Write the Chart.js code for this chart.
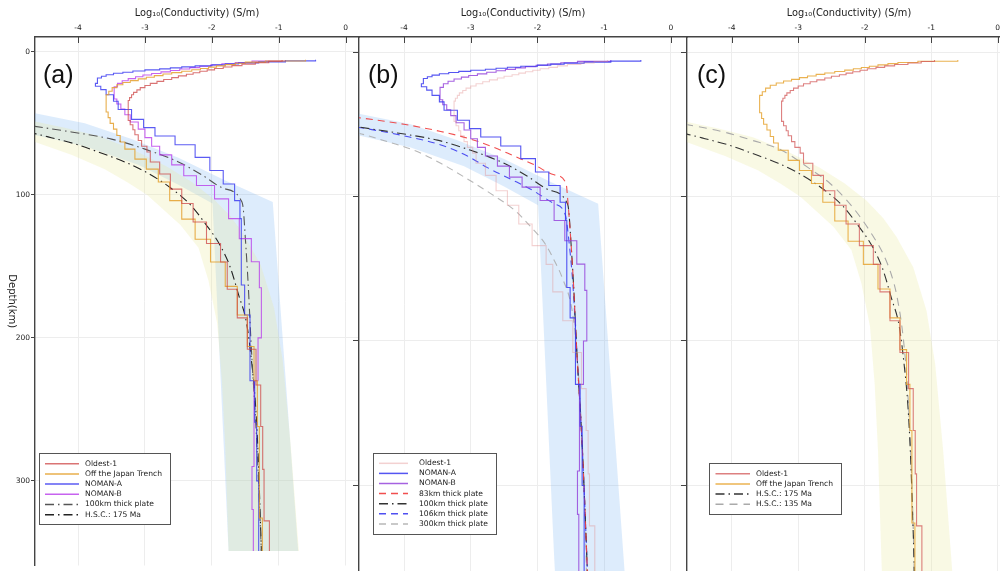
<!DOCTYPE html>
<html>
<head>
<meta charset="utf-8">
<script src="https://cdn.jsdelivr.net/npm/chart.js@4.4.0/dist/chart.umd.min.js"></script>
<style>
  html, body { margin: 0; padding: 0; background: #fff; overflow: hidden; }
  #wrap { position: relative; width: 1000px; height: 571px; }
  canvas { position: absolute; top: 0; }
</style>
</head>
<body>
<div id="wrap">
  <canvas id="panelA" width="362" height="571" style="left:0px"></canvas>
  <canvas id="panelB" width="360" height="571" style="left:330px"></canvas>
  <canvas id="panelC" width="354" height="571" style="left:660px"></canvas>
</div>
<script>
// axis ticks
const logTicks = [-4, -3, -2, -1, 0];
const depthTicks = [0, 100, 200, 300];

// resistivity-model profiles: layer top depth (km) and log10 conductivity of each layer
const oldestDepth = [5.6, 6.6, 7.6, 8.6, 9.6, 10.6, 11.6, 12.6, 13.6, 14.6, 15.7, 16.8, 18, 19.3, 20.6, 22, 23.5, 25, 26.6, 28.3, 30, 32, 34, 48, 51, 54.5, 58, 62, 66, 70, 77, 85.4, 96, 106, 119, 134, 147, 166, 186, 208, 233, 262, 292, 328];
const oldestLog = [-0.95, -1.15, -1.35, -1.55, -1.70, -1.83, -1.96, -2.07, -2.18, -2.28, -2.38, -2.50, -2.60, -2.72, -2.82, -2.92, -3.00, -3.07, -3.12, -3.17, -3.20, -3.23, -3.25, -3.22, -3.18, -3.15, -3.10, -3.05, -2.97, -2.92, -2.78, -2.62, -2.45, -2.28, -2.08, -1.87, -1.77, -1.62, -1.47, -1.34, -1.27, -1.24, -1.22, -1.14];

const trenchDepth = [5.5, 6.4, 7.2, 8.0, 8.9, 9.8, 10.7, 11.6, 12.5, 13.5, 14.5, 15.5, 16.6, 17.7, 18.9, 20.1, 21.4, 23, 25, 27.5, 30, 42, 46, 50, 54, 58.5, 63, 68, 75, 82, 91, 104, 117, 131, 147, 164, 184, 206, 230, 262, 326];
const trenchLog = [-0.6, -1.2, -1.5, -1.65, -1.8, -1.93, -2.05, -2.17, -2.3, -2.45, -2.6, -2.73, -2.86, -2.98, -3.1, -3.22, -3.33, -3.42, -3.49, -3.54, -3.58, -3.55, -3.52, -3.47, -3.42, -3.37, -3.30, -3.15, -2.98, -2.80, -2.63, -2.45, -2.25, -2.02, -1.80, -1.62, -1.47, -1.37, -1.32, -1.29, -1.245];

const nomanADepth = [5.5, 6.3, 7.0, 7.7, 8.4, 9.1, 9.8, 10.5, 11.2, 11.9, 12.6, 13.4, 14.2, 15.0, 16.0, 17.1, 18.3, 22, 24, 26.4, 30, 34.5, 40.3, 47.2, 53, 58.8, 65, 73.8, 83, 92.4, 104, 116.6, 163, 184, 230, 259, 300];
const nomanALog = [-0.45, -0.9, -1.3, -1.6, -1.8, -2.0, -2.25, -2.45, -2.62, -2.78, -3.0, -3.18, -3.33, -3.47, -3.58, -3.65, -3.71, -3.74, -3.66, -3.58, -3.47, -3.40, -3.20, -3.02, -2.85, -2.55, -2.25, -2.03, -1.83, -1.66, -1.58, -1.56, -1.51, -1.43, -1.36, -1.33, -1.30];

const nomanBDepth = [5.6, 6.5, 7.4, 8.3, 9.2, 10.1, 11.0, 12.0, 13.0, 14.0, 15.1, 16.2, 17.4, 18.7, 20.2, 22, 24.5, 33, 36.5, 40, 44, 49, 54, 60, 66, 72, 79, 86.6, 93.5, 102.8, 116.6, 130.6, 146.8, 165, 200, 230, 290, 320];
const nomanBLog = [-0.9, -1.4, -1.65, -1.85, -2.02, -2.18, -2.33, -2.48, -2.62, -2.76, -2.9, -3.03, -3.14, -3.25, -3.34, -3.41, -3.46, -3.42, -3.36, -3.30, -3.22, -3.10, -3.0, -2.90, -2.78, -2.60, -2.42, -2.23, -1.96, -1.75, -1.59, -1.41, -1.29, -1.26, -1.31, -1.37, -1.40, -1.38];

// thermal-model conductivity curves
const plate83Depth = [42, 45, 50, 55, 60, 66, 72, 78, 85, 91, 100, 130, 160, 207, 272, 349, 375];
const plate83Log = [-5.3, -4.75, -4.0, -3.45, -3.02, -2.65, -2.35, -2.05, -1.75, -1.57, -1.55, -1.50, -1.46, -1.41, -1.33, -1.26, -1.24];

const plate100Depth = [48, 52, 56, 61, 68, 77, 86, 95, 105, 110, 130, 160, 207, 272, 349, 375];
const plate100Log = [-5.2, -4.66, -4.1, -3.5, -3.0, -2.5, -2.15, -1.85, -1.55, -1.53, -1.50, -1.46, -1.41, -1.33, -1.26, -1.24];

const plate106Depth = [48, 52, 58, 65, 72, 80, 88, 95, 105, 113, 130, 160, 207, 272, 349, 375];
const plate106Log = [-5.3, -4.7, -4.0, -3.4, -3.05, -2.75, -2.4, -2.1, -1.75, -1.58, -1.53, -1.47, -1.41, -1.33, -1.26, -1.24];

const plate300Depth = [52, 56, 62, 68, 77, 87, 98, 110, 122, 133, 145, 156, 179, 207, 242, 290, 349, 375];
const plate300Log = [-5.2, -4.7, -4.25, -3.85, -3.45, -3.08, -2.7, -2.33, -2.08, -1.88, -1.74, -1.63, -1.48, -1.41, -1.36, -1.31, -1.27, -1.26];

const hsc175Depth = [53, 56, 60, 65, 70, 77, 85, 95, 107, 120, 135, 150, 170, 190, 215, 245, 280, 320, 349, 375];
const hsc175Log = [-5.1, -4.75, -4.4, -4.0, -3.7, -3.3, -2.95, -2.62, -2.32, -2.1, -1.88, -1.73, -1.6, -1.48, -1.41, -1.35, -1.31, -1.28, -1.26, -1.25];

const hsc135Depth = [46, 50, 55, 61, 68, 80, 91, 102, 114, 127, 140, 154, 168, 198, 230, 265, 300, 349, 375];
const hsc135Log = [-5.2, -4.7, -4.15, -3.7, -3.25, -2.85, -2.52, -2.28, -2.07, -1.88, -1.72, -1.6, -1.52, -1.42, -1.36, -1.32, -1.29, -1.26, -1.25];

// uncertainty ranges: upper/right edge and lower/left edge of each band
const plateBandUpperDepth = [38.5, 42, 50, 61, 74, 90, 105, 349, 375];
const plateBandUpperLog = [-5.2, -4.75, -3.9, -3.2, -2.5, -1.8, -1.09, -0.71, -0.67];
const plateBandLowerDepth = [53, 57, 66, 79, 93, 106, 349, 375];
const plateBandLowerLog = [-5.2, -4.75, -3.9, -3.1, -2.5, -1.99, -1.75, -1.72];

const hscBandUpperDepth = [44, 48.5, 53, 59, 68, 80, 91, 103, 115, 128, 149, 179, 216, 276, 349, 375];
const hscBandUpperLog = [-5.2, -4.67, -4.2, -3.68, -3.2, -2.68, -2.3, -1.97, -1.72, -1.52, -1.27, -1.07, -0.94, -0.82, -0.70, -0.66];
const hscBandLowerDepth = [58, 62, 72, 82, 91, 100, 121, 137, 160, 190, 230, 276, 349, 375];
const hscBandLowerLog = [-5.2, -4.7, -4.1, -3.6, -3.27, -2.97, -2.47, -2.2, -2.05, -1.92, -1.85, -1.80, -1.75, -1.73];

const dashDot = [9, 4, 1.5, 4];
const dashed = [7, 5];

Chart.defaults.font.family = "'DejaVu Sans', sans-serif";
Chart.defaults.color = '#333';

function stepPoints(depths, logs, bottom) {
  const pts = depths.map((d, i) => ({ x: logs[i], y: d }));
  pts.push({ x: logs[logs.length - 1], y: bottom });
  return pts;
}

function curvePoints(depths, logs, bottom) {
  return depths.map((d, i) => ({ x: logs[i], y: d })).filter(p => p.y <= bottom);
}

function profile(label, depths, logs, bottom, color) {
  return {
    label: label, data: stepPoints(depths, logs, bottom),
    borderColor: color, borderWidth: 1.1, stepped: 'after',
    pointRadius: 0, fill: false
  };
}

function model(label, depths, logs, bottom, color, dash, width) {
  return {
    label: label, data: curvePoints(depths, logs, bottom),
    borderColor: color, borderDash: dash, borderWidth: width || 1.1,
    cubicInterpolationMode: 'monotone', pointRadius: 0, fill: false
  };
}

function band(upD, upX, loD, loX, bottom, color) {
  const upper = curvePoints(upD, upX, bottom);
  const lower = curvePoints(loD, loX, bottom).reverse();
  return {
    data: upper.concat(lower), borderWidth: 0, borderColor: 'rgba(0,0,0,0)',
    backgroundColor: color, pointRadius: 0, fill: 'shape'
  };
}

// legend box, panel letter, depth title and inward x tick marks
const panelDecor = {
  id: 'panelDecor',
  afterDraw(chart, args, opts) {
    const ctx = chart.ctx;
    const area = chart.chartArea;
    const xs = chart.scales.x;
    ctx.save();

    ctx.strokeStyle = '#444';
    ctx.lineWidth = 1;
    xs.ticks.forEach(t => {
      const px = Math.round(xs.getPixelForValue(t.value)) + 0.5;
      ctx.beginPath();
      ctx.moveTo(px, area.top);
      ctx.lineTo(px, area.top + 6);
      ctx.stroke();
    });

    ctx.fillStyle = '#111';
    ctx.font = "25px 'Liberation Sans', sans-serif";
    ctx.textBaseline = 'middle';
    ctx.textAlign = 'left';
    ctx.fillText(opts.letter, opts.letterX, 76);

    if (opts.depthTitle) {
      ctx.save();
      ctx.translate(12, (area.top + area.bottom) / 2);
      ctx.rotate(Math.PI / 2);
      ctx.textAlign = 'center';
      ctx.font = "10px 'DejaVu Sans', sans-serif";
      ctx.fillStyle = '#222';
      ctx.fillText('Depth(km)', 0, 0);
      ctx.restore();
    }

    const lg = opts.legend;
    const items = chart.data.datasets.filter(ds => ds.label);
    ctx.fillStyle = '#fff';
    ctx.fillRect(lg.x, lg.y, lg.w, lg.h);
    ctx.strokeStyle = '#555';
    ctx.lineWidth = 1;
    ctx.strokeRect(lg.x + 0.5, lg.y + 0.5, lg.w, lg.h);
    ctx.font = "7.6px 'DejaVu Sans', sans-serif";
    ctx.textAlign = 'left';
    items.forEach((ds, i) => {
      const y = lg.y + lg.first + i * lg.row;
      ctx.strokeStyle = ds.borderColor;
      ctx.lineWidth = 1.5;
      ctx.setLineDash(ds.borderDash || []);
      ctx.beginPath();
      ctx.moveTo(lg.x + lg.lineFrom, y);
      ctx.lineTo(lg.x + lg.lineTo, y);
      ctx.stroke();
      ctx.setLineDash([]);
      ctx.fillStyle = '#222';
      ctx.fillText(ds.label, lg.x + lg.text, y);
    });
    ctx.restore();
  }
};

function panelOptions(cfg) {
  return {
    responsive: false,
    animation: false,
    events: [],
    layout: { padding: { left: 0, right: 3, top: 0, bottom: 0 } },
    plugins: {
      legend: { display: false },
      tooltip: { enabled: false },
      panelDecor: cfg.decor
    },
    scales: {
      x: {
        type: 'linear', position: 'top', min: cfg.xMin, max: cfg.xMax,
        afterBuildTicks: s => { s.ticks = logTicks.map(v => ({ value: v })); },
        afterFit: s => { s.height = 37; },
        grid: { color: '#ededed', drawTicks: false },
        border: { color: '#444', width: 1.4 },
        ticks: { font: { size: 7.5 }, padding: 4, color: '#222' },
        title: {
          display: true, text: 'Log₁₀(Conductivity) (S/m)',
          font: { size: 9.8 }, color: '#222', padding: { top: 8, bottom: 0 }
        }
      },
      y: {
        type: 'linear', reverse: true, min: -10.4, max: 359.2,
        afterBuildTicks: s => { s.ticks = depthTicks.map(v => ({ value: v })); },
        afterFit: s => { s.width = cfg.yWidth; },
        grid: { color: '#ededed', tickLength: cfg.tickLen, tickColor: '#444' },
        border: { color: '#444', width: 1.4 },
        ticks: { display: cfg.showDepth, font: { size: 7.5 }, padding: 1, color: '#222' }
      }
    }
  };
}

const blueBand = 'rgba(120, 180, 245, 0.25)';
const yellowBand = 'rgba(233, 233, 155, 0.27)';

// (a) all profiles with the 100 km plate and 175 Ma half-space cooling models
const endA = 349;
new Chart(document.getElementById('panelA'), {
  type: 'line',
  data: {
    datasets: [
      profile('Oldest-1', oldestDepth, oldestLog, endA, 'rgba(205, 70, 70, 0.75)'),
      profile('Off the Japan Trench', trenchDepth, trenchLog, endA, 'rgba(228, 160, 45, 0.85)'),
      profile('NOMAN-A', nomanADepth, nomanALog, endA, 'rgba(50, 50, 240, 0.8)'),
      profile('NOMAN-B', nomanBDepth, nomanBLog, endA, 'rgba(185, 60, 235, 0.8)'),
      model('100km thick plate', plate100Depth, plate100Log, endA, '#555', dashDot),
      model('H.S.C.: 175 Ma', hsc175Depth, hsc175Log, endA, '#222', dashDot),
      band(hscBandUpperDepth, hscBandUpperLog, hscBandLowerDepth, hscBandLowerLog, endA, yellowBand),
      band(plateBandUpperDepth, plateBandUpperLog, plateBandLowerDepth, plateBandLowerLog, endA, blueBand)
    ]
  },
  options: panelOptions({
    xMin: -4.643, xMax: 0.199, yWidth: 35, tickLen: 4, showDepth: true,
    decor: {
      letter: '(a)', letterX: 43, depthTitle: true,
      legend: { x: 39, y: 453, w: 131, h: 71, first: 10.7, row: 10.2, lineFrom: 6, lineTo: 40, text: 46 }
    }
  }),
  plugins: [panelDecor]
});

// (b) Oldest-1 and NOMAN profiles against plates of different thickness
const endBC = 375;
new Chart(document.getElementById('panelB'), {
  type: 'line',
  data: {
    datasets: [
      profile('Oldest-1', oldestDepth, oldestLog, endBC, 'rgba(225, 140, 140, 0.4)'),
      profile('NOMAN-A', nomanADepth, nomanALog, endBC, 'rgba(55, 55, 240, 0.85)'),
      profile('NOMAN-B', nomanBDepth, nomanBLog, endBC, 'rgba(150, 70, 220, 0.85)'),
      model('83km thick plate', plate83Depth, plate83Log, endBC, 'rgba(240, 60, 60, 0.9)', dashed),
      model('100km thick plate', plate100Depth, plate100Log, endBC, '#333', dashDot),
      model('106km thick plate', plate106Depth, plate106Log, endBC, 'rgba(60, 60, 240, 0.9)', dashed),
      model('300km thick plate', plate300Depth, plate300Log, endBC, 'rgba(170, 170, 170, 0.85)', dashed),
      band(plateBandUpperDepth, plateBandUpperLog, plateBandLowerDepth, plateBandLowerLog, endBC, blueBand)
    ]
  },
  options: panelOptions({
    xMin: -4.675, xMax: 0.242, yWidth: 29, tickLen: 6, showDepth: false,
    decor: {
      letter: '(b)', letterX: 38, depthTitle: false,
      legend: { x: 43, y: 453, w: 123, h: 81, first: 10.3, row: 10.1, lineFrom: 6, lineTo: 35, text: 46 }
    }
  }),
  plugins: [panelDecor]
});

// (c) Pacific profiles against half-space cooling models
new Chart(document.getElementById('panelC'), {
  type: 'line',
  data: {
    datasets: [
      profile('Oldest-1', oldestDepth, oldestLog, endBC, 'rgba(210, 85, 85, 0.75)'),
      profile('Off the Japan Trench', trenchDepth, trenchLog, endBC, 'rgba(230, 165, 50, 0.85)'),
      model('H.S.C.: 175 Ma', hsc175Depth, hsc175Log, endBC, '#333', dashDot),
      model('H.S.C.: 135 Ma', hsc135Depth, hsc135Log, endBC, '#aaa', [8, 6]),
      band(hscBandUpperDepth, hscBandUpperLog, hscBandLowerDepth, hscBandLowerLog, endBC, yellowBand)
    ]
  },
  options: panelOptions({
    xMin: -4.672, xMax: 0.2, yWidth: 27, tickLen: 6, showDepth: false,
    decor: {
      letter: '(c)', letterX: 37, depthTitle: false,
      legend: { x: 49, y: 463, w: 132, h: 51, first: 10.7, row: 10.2, lineFrom: 6.5, lineTo: 41, text: 47 }
    }
  }),
  plugins: [panelDecor]
});
</script>
</body>
</html>
